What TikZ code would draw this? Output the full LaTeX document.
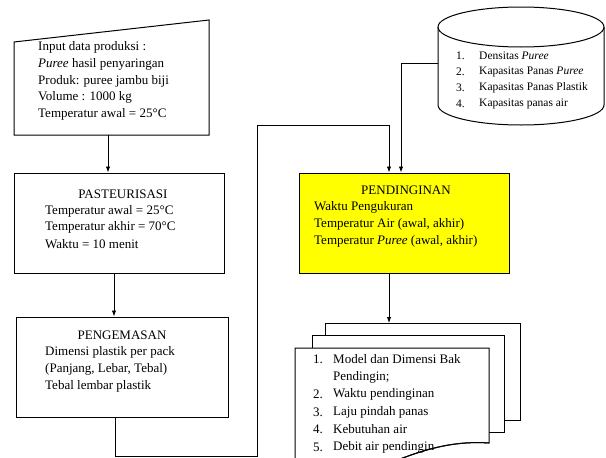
\documentclass[tikz,border=0pt]{standalone}
\usepackage{fontspec}
\setmainfont{Liberation Serif}
\usetikzlibrary{arrows.meta}
\begin{document}
\begin{tikzpicture}[x=1pt,y=-1pt,
  box/.style={draw, line width=1pt, inner sep=0pt},
  txt/.style={anchor=west, inner sep=0pt, font=\fontsize{13}{15}\selectfont},
  ttl/.style={anchor=center, inner sep=0pt, font=\fontsize{13}{15}\selectfont},
  small/.style={anchor=west, inner sep=0pt, font=\fontsize{11.5}{13}\selectfont},
  arr/.style={-{Latex[length=6pt,width=4.5pt]}, line width=0.9pt},
  ln/.style={line width=0.9pt}]
\useasboundingbox (0,0) rectangle (606,458);
\clip (0,0) rectangle (606,458);
\fill[white] (0,0) rectangle (606,458);

% manual input
\draw[line width=1pt] (14,42) -- (209,20) -- (209,135) -- (14,135) -- cycle;
\coordinate (inB) at (108,135);
\node[txt] (i1) at (38,47) {Input data produksi :};
\node[txt] (i2) at (38,64) {\textit{Puree} hasil penyaringan};
\node[txt] (i3) at (38,81) {Produk: puree jambu biji};
\node[txt] (i4) at (38,97) {Volume : 1000 kg};
\node[txt] (i5) at (38,114) {Temperatur awal = 25°C};

% pasteurisasi
\node[box, minimum width=210pt, minimum height=100pt] (pas) at (119,223) {};
\node[ttl] (pt) at (123,194) {PASTEURISASI};
\node[txt] (p1) at (45,211) {Temperatur awal = 25°C};
\node[txt] (p2) at (45,227) {Temperatur akhir = 70°C};
\node[txt] (p3) at (45,244) {Waktu = 10 menit};
\draw[arr] (inB) -- (inB |- pas.north);

% pengemasan
\node[box, minimum width=212pt, minimum height=100pt] (pen) at (122,367) {};
\node[ttl] (gt) at (122,335) {PENGEMASAN};
\node[txt] (g1) at (45,352) {Dimensi plastik per pack};
\node[txt] (g2) at (45,369) {(Panjang, Lebar, Tebal)};
\node[txt] (g3) at (45,386) {Tebal lembar plastik};
\coordinate (pasB) at (114,273);
\draw[arr] (pasB) -- (pasB |- pen.north);

% pendinginan
\node[box, fill={rgb,255:red,255;green,255;blue,0}, minimum width=210pt, minimum height=100pt] (dng) at (404,223) {};
\node[ttl] (dt) at (406,190) {PENDINGINAN};
\node[txt] (d1) at (314,207) {Waktu Pengukuran};
\node[txt] (d2) at (314,224) {Temperatur Air (awal, akhir)};
\node[txt] (d3) at (314,241) {Temperatur \textit{Puree} (awal, akhir)};

% loop from pengemasan to pendinginan
\coordinate (penB) at (115,417);
\coordinate (c1) at (115,456);
\coordinate (c2) at (257,456);
\coordinate (c3) at (257,125);
\coordinate (c4) at (389,125);
\draw[ln] (penB) -- (c1) -- (c2) -- (c3) -- (c4);
\draw[arr] (c4) -- (c4 |- dng.north);

% database cylinder
\draw[line width=1pt, fill=white] (438,27) -- (438,105) arc[start angle=180, end angle=0, x radius=83, y radius=20] -- (604,27);
\draw[line width=1pt] (521,27) ellipse[x radius=83, y radius=20];
\coordinate (cyl) at (438,63);
\coordinate (cylC) at (401,63);
\node[small] (n1) at (456,56) {1.};
\node[small] (n2) at (456,72) {2.};
\node[small] (n3) at (456,88) {3.};
\node[small] (n4) at (456,104) {4.};
\node[small] (k1) at (479,56) {Densitas \textit{Puree}};
\node[small] (k2) at (479,72) {Kapasitas Panas \textit{Puree}};
\node[small] (k3) at (479,88) {Kapasitas Panas Plastik};
\node[small] (k4) at (479,104) {Kapasitas panas air};
\draw[ln] (cyl) -- (cylC);
\draw[arr] (cylC) -- (cylC |- dng.north);

% multi-document
\draw[line width=1pt, fill=white] (325,323) rectangle (520,420);
\draw[line width=1pt, fill=white] (312,335) rectangle (504,432);
\draw[line width=1pt, fill=white] (295,475) -- (295,348) -- (489,348) -- (489,443)
  .. controls (460,441) and (430,446) .. (388,464) -- cycle;
\coordinate (docT) at (389,323);
\coordinate (dngB) at (389,273);
\draw[arr] (dngB) -- (docT);
\node[txt] (m1) at (313,359) {1.};
\node[txt] (m2) at (313,394) {2.};
\node[txt] (m3) at (313,412) {3.};
\node[txt] (m4) at (313,429) {4.};
\node[txt] (m5) at (313,447) {5.};
\node[txt] (t1) at (333,359) {Model dan Dimensi Bak};
\node[txt] (t1b) at (333,377) {Pendingin;};
\node[txt] (t2) at (333,394) {Waktu pendinginan};
\node[txt] (t3) at (333,412) {Laju pindah panas};
\node[txt] (t4) at (333,429) {Kebutuhan air};
\node[txt] (t5) at (333,447) {Debit air pendingin};
\draw[line width=1pt] (489,443) .. controls (460,441) and (430,446) .. (388,464);
\end{tikzpicture}
\end{document}
